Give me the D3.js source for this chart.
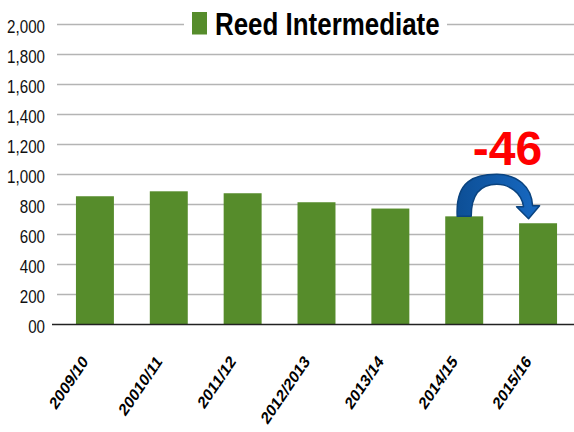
<!DOCTYPE html>
<html>
<head>
<meta charset="utf-8">
<script src="https://cdn.jsdelivr.net/npm/d3@7"></script>
<style>
  body { margin: 0; background: #fff; }
  svg { display: block; }
</style>
</head>
<body>
<svg id="chart" width="574" height="432"></svg>
<script>
// data
const years = ['2009/10', '20010/11', '2011/12', '2012/2013', '2013/14', '2014/15', '2015/16']
const enrolment = [855, 888, 875, 815, 773, 721, 675]
const yTicks = [0, 200, 400, 600, 800, 1000, 1200, 1400, 1600, 1800, 2000]
const yTickLabels = ['00', '200', '400', '600', '800', '1,000', '1,200', '1,400', '1,600', '1,800', '2,000']
const seriesName = 'Reed Intermediate'

const green = '#568c2b'
const svg = d3.select('svg#chart')

const x = d3.scaleBand()
  .domain(years)
  .range([58, 575])
  .paddingInner(0.486)
  .paddingOuter(0.243)

const y = d3.scaleLinear()
  .domain([0, 2000])
  .range([324.5, 24.5])

// gridlines
svg.append('g')
  .selectAll('line')
  .data(yTicks.filter(d => d > 0))
  .enter()
    .append('line')
      .attr('x1', 57).attr('x2', 574)
      .attr('y1', d => y(d)).attr('y2', d => y(d))
      .attr('stroke', '#b4b4b4')
      .attr('stroke-width', 1.5)

// y labels
svg.append('g')
  .selectAll('text')
  .data(yTicks)
  .enter()
    .append('text')
      .attr('transform', d => `translate(45, ${y(d) + 8.5}) scale(0.82, 1)`)
      .attr('text-anchor', 'end')
      .attr('font-family', 'Liberation Sans, Arial, sans-serif')
      .attr('font-size', 18.5)
      .attr('fill', '#111')
      .text((d, i) => yTickLabels[i])

// bars
svg.append('g')
  .selectAll('rect')
  .data(enrolment)
  .enter()
    .append('rect')
      .attr('x', (d, i) => x(years[i]))
      .attr('y', d => y(d))
      .attr('width', x.bandwidth())
      .attr('height', d => y(0) - y(d))
      .attr('fill', green)

// baseline
svg.append('line')
  .attr('x1', 52).attr('x2', 574)
  .attr('y1', y(0)).attr('y2', y(0))
  .attr('stroke', '#222')
  .attr('stroke-width', 1.5)

// x labels
svg.append('g')
  .selectAll('text')
  .data(years)
  .enter()
    .append('text')
      .attr('transform', d => `translate(${x(d) + x.bandwidth() / 2 - 6}, 362) scale(0.81, 1) rotate(-50)`)
      .attr('text-anchor', 'end')
      .attr('font-family', 'Liberation Sans, Arial, sans-serif')
      .attr('font-weight', 'bold')
      .attr('font-size', 17.5)
      .attr('fill', '#000')
      .text(d => d)

// legend / title
const legend = svg.append('g')
legend.append('rect')
  .attr('x', 184).attr('y', 8).attr('width', 263).attr('height', 32)
  .attr('fill', '#fff')
legend.append('rect')
  .attr('x', 192).attr('y', 12).attr('width', 15).attr('height', 22.5)
  .attr('fill', green)
legend.append('text')
  .attr('transform', 'translate(215, 35) scale(0.81, 1)')
  .attr('font-family', 'Liberation Sans, Arial, sans-serif')
  .attr('font-weight', 'bold')
  .attr('font-size', 32)
  .attr('fill', '#000')
  .text(seriesName)

// change annotation between last two years
const n = years.length
const ax = x(years[n - 2]) + x.bandwidth() / 2
const ay = y(enrolment[n - 2])
const tx = x(years[n - 1]) + x.bandwidth() / 2 - 9.5
const ty = y(enrolment[n - 1]) - 4.5
const peakX = (ax + tx) / 2 + 0.5
const peakY = ay - 42

const arrow = d3.path()
arrow.moveTo(ax - 7, ay)
arrow.bezierCurveTo(ax - 9, peakY + 6, peakX - 22, peakY, peakX, peakY)
arrow.bezierCurveTo(peakX + 20, peakY, tx + 3, peakY + 12, tx + 4, ty - 13)
arrow.lineTo(tx + 11, ty - 13)
arrow.lineTo(tx, ty)
arrow.lineTo(tx - 12, ty - 12)
arrow.lineTo(tx - 5, ty - 12)
arrow.bezierCurveTo(tx - 7, peakY + 18, peakX + 12, peakY + 10, peakX, peakY + 10)
arrow.bezierCurveTo(peakX - 15, peakY + 10, ax + 7, peakY + 18, ax + 7, ay)
arrow.closePath()

const grad = svg.append('defs').append('linearGradient')
  .attr('id', 'arrowFill')
  .attr('x1', 0).attr('y1', 0).attr('x2', 1).attr('y2', 0)
grad.append('stop').attr('offset', '0%').attr('stop-color', '#0d4f96')
grad.append('stop').attr('offset', '100%').attr('stop-color', '#1769c2')

svg.append('path')
  .attr('d', arrow.toString())
  .attr('fill', 'url(#arrowFill)')
  .attr('stroke', '#0a437f')
  .attr('stroke-width', 1.5)
  .attr('stroke-linejoin', 'round')

// plain hyphen, as in the picture
const change = enrolment[n - 1] - enrolment[n - 2]
svg.append('text')
  .attr('x', (ax + tx) / 2 + 11)
  .attr('y', 165)
  .attr('text-anchor', 'middle')
  .attr('font-family', 'Liberation Sans, Arial, sans-serif')
  .attr('font-weight', 'bold')
  .attr('font-size', 48)
  .attr('fill', '#ff0000')
  .text(String(change))
</script>
</body>
</html>
